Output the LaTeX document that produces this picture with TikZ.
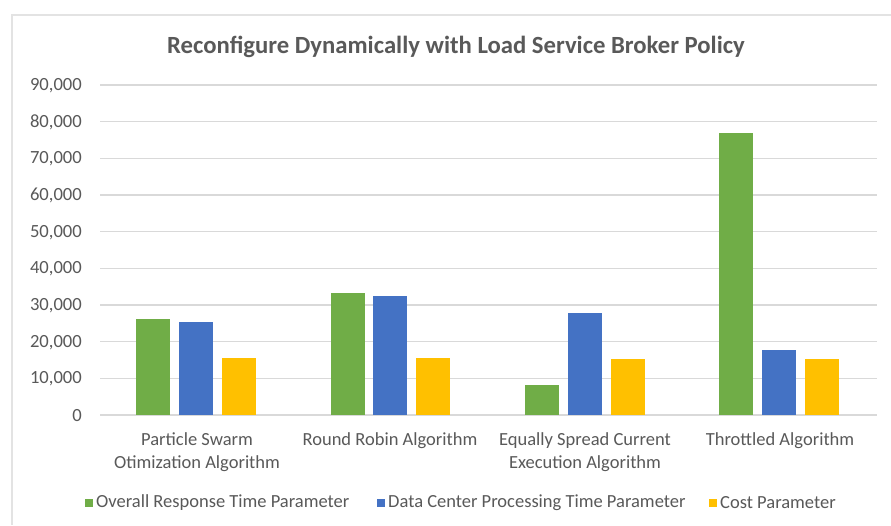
\documentclass[tikz,border=0pt]{standalone}
\usepackage{fontspec}
\setmainfont{Carlito}
\definecolor{txt}{HTML}{595959}
\definecolor{grid}{HTML}{D9D9D9}
\definecolor{frame}{HTML}{E3E3E3}
\definecolor{sgreen}{HTML}{70AD47}
\definecolor{sblue}{HTML}{4472C4}
\definecolor{syellow}{HTML}{FFC000}
\begin{document}
\begin{tikzpicture}[x=1pt,y=-1pt,
  ticklabel/.style={anchor=east,text=txt,font=\fontsize{18.6}{21}\selectfont,inner sep=0pt},
  catlabel/.style={anchor=center,text=txt,font=\fontsize{18.5}{23}\selectfont,align=center,inner sep=0pt},
  legendtext/.style={anchor=west,text=txt,font=\fontsize{18.5}{21}\selectfont,inner sep=0pt},
  gridline/.style={draw=grid,line width=1.2pt}]
\useasboundingbox (0,0) rectangle (891,525);
\fill[white] (0,0) rectangle (891,525);
% chart frame (top and left edges only are in view)
\draw[frame,line width=1.4pt] (12,525) -- (12,15) -- (891,15);
% title
\node[text=txt,font=\fontsize{24.7}{28}\selectfont\bfseries] (title) at (456,46.5) {Reconfigure Dynamically with Load Service Broker Policy};
% horizontal gridlines and value labels
\foreach \i/\lab in {0/0,1/{10,000},2/{20,000},3/{30,000},4/{40,000},5/{50,000},6/{60,000},7/{70,000},8/{80,000},9/{90,000}}{
  \draw[gridline] (100,415-36.667*\i) -- (877,415-36.667*\i);
  \node[ticklabel] (tick\i) at (82,415.5-36.667*\i) {\lab};
}
% bars: value given in thousands, 3.6667 px per thousand
\newcommand{\barat}[3]{\fill[#3] (#1,415) rectangle (#1+34,415-3.6667*#2);}
% Particle Swarm
\barat{136}{26.1}{sgreen}
\barat{179}{25.45}{sblue}
\barat{222}{15.45}{syellow}
% Round Robin
\barat{331}{33.2}{sgreen}
\barat{373}{32.45}{sblue}
\barat{416}{15.45}{syellow}
% Equally Spread Current Execution
\barat{525}{8.18}{sgreen}
\barat{568}{27.7}{sblue}
\barat{611}{15.4}{syellow}
% Throttled
\barat{719}{76.8}{sgreen}
\barat{762}{17.73}{sblue}
\barat{805}{15.4}{syellow}
% category labels
\node[catlabel,anchor=north] (cat1) at (197,432) {Particle Swarm\\Otimization Algorithm};
\node[catlabel,anchor=north] (cat2) at (390,432) {Round Robin Algorithm};
\node[catlabel,anchor=north] (cat3) at (585,432) {Equally Spread Current\\Execution Algorithm};
\node[catlabel,anchor=north] (cat4) at (780,432) {Throttled Algorithm};
% legend
\fill[sgreen] (85,499) rectangle (93,507);
\node[legendtext] (leg1) at (96,503) {Overall Response Time Parameter};
\fill[sblue] (377,499) rectangle (385,507);
\node[legendtext] (leg2) at (388,503) {Data Center Processing Time Parameter};
\fill[syellow] (709,499) rectangle (717,507);
\node[legendtext] (leg3) at (720,503) {Cost Parameter};
\end{tikzpicture}
\end{document}
